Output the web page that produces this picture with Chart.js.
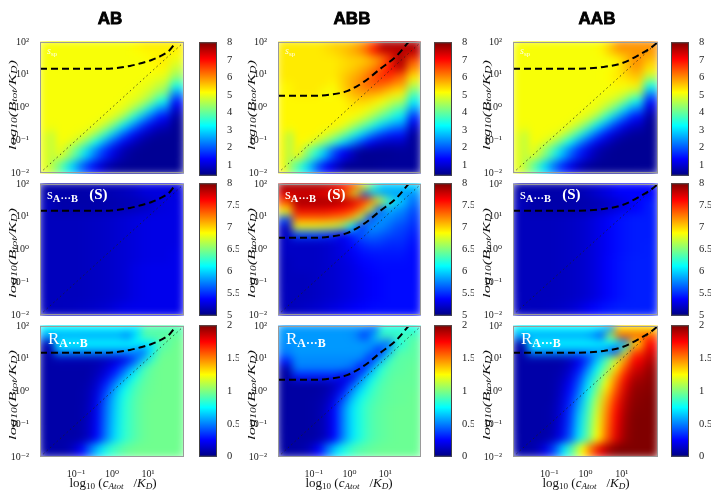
<!DOCTYPE html>
<html>
<head>
<meta charset="utf-8">
<script src="https://cdn.jsdelivr.net/npm/chart.js@4.4.1/dist/chart.umd.min.js"></script>
<style>
  body { margin: 0; background: #fff; }
  #fig { position: relative; width: 711px; height: 497px; overflow: hidden; font-family: "Liberation Serif", serif; }
  .heat { position: absolute; overflow: hidden; z-index: 1; }
  canvas { position: absolute; }
  .over { z-index: 2; }
  .txt { position: absolute; z-index: 3; white-space: nowrap; line-height: 1; }
  .title { font-family: "Liberation Sans", Arial, sans-serif; font-weight: bold; font-size: 17px; -webkit-text-stroke: 0.8px #000; transform: translate(-50%, -50%); }
  .ylab { font-size: 11px; font-style: italic; transform: translate(-50%, -50%) rotate(-90deg) scaleX(1.5); color: #111; }
  .xlab { font-size: 13px; transform: translate(-50%, -50%); color: #111; }
  .white { color: #fff; }
  sub { font-size: 70%; vertical-align: -0.25em; line-height: 0; }
</style>
</head>
<body>
<div id="fig"></div>
<script>
// cell centres of the 12x12 grids (log10 units), columns left->right, rows top->bottom
const LOG_X = [-1.833, -1.5, -1.167, -0.833, -0.5, -0.167, 0.167, 0.5, 0.833, 1.167, 1.5, 1.833];
const LOG_Y = [1.833, 1.5, 1.167, 0.833, 0.5, 0.167, -0.167, -0.5, -0.833, -1.167, -1.5, -1.833];

const Y_TICK_VALUES = [0.01, 0.1, 1, 10, 100];
const Y_TICK_LABELS = ["10⁻²", "10⁻¹", "10⁰", "10¹", "10²"];
const X_TICK_VALUES = [0.1, 1, 10];
const X_TICK_LABELS = ["10⁻¹", "10⁰", "10¹"];

const RANGE_SP = [0.4, 8];
const RANGE_S = [5, 8];
const RANGE_R = [0, 2];
const CBAR_TICKS_SP = [1, 2, 3, 4, 5, 6, 7, 8];
const CBAR_TICKS_S = [5, 5.5, 6, 6.5, 7, 7.5, 8];
const CBAR_TICKS_R = [0, 0.5, 1, 1.5, 2];

// dashed curves, log10 x / log10 y
const DASH_AB_X = [-2, -1, -0.5, 0, 0.5, 0.8, 1.1, 1.4, 1.6, 1.78];
const DASH_AB_Y = [1.18, 1.18, 1.18, 1.19, 1.27, 1.35, 1.45, 1.6, 1.75, 2.0];
const DASH_ABB_X = [-2, -1, -0.5, -0.07, 0.4, 0.86, 1.32, 1.65];
const DASH_ABB_Y = [0.36, 0.36, 0.4, 0.5, 0.78, 1.18, 1.58, 2.0];
const DASH_AAB_X = [-2, -1, 0, 0.5, 1.0, 1.5, 1.8, 2.0];
const DASH_AAB_Y = [1.18, 1.18, 1.19, 1.24, 1.35, 1.62, 1.82, 2.0];
const DIAG_LOG = [-2, 2];

// row 1: s_sp
const AB_SP = [
  [5.1, 5.1, 5.1, 5.1, 5.1, 5.1, 5.1, 5.1, 5.1, 5.1, 5.2, 5.3],
  [5.1, 5.1, 5.1, 5.1, 5.1, 5.1, 5.1, 5.1, 5.1, 5.1, 5.15, 5.2],
  [5.1, 5.1, 5.1, 5.1, 5.1, 5.1, 5.1, 5.1, 5.1, 5.1, 5.1, 5.0],
  [5.1, 5.1, 5.1, 5.1, 5.1, 5.1, 5.1, 5.1, 5.1, 5.05, 4.95, 4.7],
  [5.1, 5.1, 5.1, 5.1, 5.1, 5.1, 5.1, 5.1, 5.05, 4.95, 4.7, 4.3],
  [5.1, 5.1, 5.1, 5.1, 5.1, 5.1, 5.1, 5.05, 4.95, 4.7, 4.2, 3.4],
  [5.1, 5.1, 5.1, 5.1, 5.1, 5.1, 5.05, 4.95, 4.5, 3.9, 3.0, 2.3],
  [5.1, 5.1, 5.1, 5.1, 5.1, 5.05, 4.85, 4.35, 3.5, 2.7, 2.0, 1.4],
  [5.1, 5.1, 5.1, 5.1, 5.0, 4.65, 4.0, 3.1, 2.4, 1.7, 1.2, 0.9],
  [5.1, 5.1, 5.05, 4.9, 4.4, 3.65, 2.8, 2.05, 1.45, 1.0, 0.75, 0.6],
  [5.1, 5.0, 4.7, 4.1, 3.3, 2.5, 1.8, 1.25, 0.9, 0.65, 0.55, 0.55],
  [5.0, 4.5, 3.8, 2.95, 2.2, 1.6, 1.1, 0.75, 0.6, 0.55, 0.55, 0.55],
];
const ABB_SP = [
  [5.3, 5.3, 5.3, 5.3, 5.3, 5.4, 5.5, 5.5, 5.7, 6.0, 6.6, 7.7],
  [5.3, 5.3, 5.3, 5.3, 5.3, 5.4, 5.5, 5.7, 5.9, 6.3, 7.0, 7.5],
  [5.3, 5.3, 5.3, 5.3, 5.3, 5.5, 5.7, 5.9, 6.3, 6.7, 6.8, 6.4],
  [5.3, 5.3, 5.3, 5.3, 5.2, 5.5, 5.8, 6.1, 6.4, 6.4, 6.2, 5.9],
  [5.3, 5.3, 5.3, 5.1, 5.1, 5.4, 5.7, 5.9, 5.9, 5.8, 5.5, 5.3],
  [5.2, 5.2, 5.2, 5.2, 5.2, 5.2, 5.4, 5.5, 5.4, 5.2, 4.9, 4.6],
  [5.2, 5.2, 5.2, 5.2, 5.2, 5.2, 5.3, 5.2, 5.0, 4.7, 4.3, 3.8],
  [5.2, 5.2, 5.2, 5.2, 5.2, 5.2, 5.1, 4.9, 4.5, 4.0, 3.6, 3.1],
  [5.2, 5.2, 5.2, 5.2, 5.2, 5.0, 4.6, 4.1, 3.6, 3.0, 2.6, 2.3],
  [5.2, 5.2, 5.2, 5.0, 4.7, 4.2, 3.6, 3.0, 2.4, 1.9, 1.6, 1.5],
  [5.2, 5.1, 4.8, 4.3, 3.7, 3.0, 2.4, 1.8, 1.3, 1.0, 0.9, 0.9],
  [5.2, 4.3, 3.6, 2.8, 1.9, 1.3, 0.9, 0.55, 0.55, 0.55, 0.55, 0.6],
];
const AAB_SP = [
  [5.1, 5.1, 5.1, 5.1, 5.1, 5.1, 5.1, 5.1, 5.1, 5.2, 5.5, 6.0],
  [5.1, 5.1, 5.1, 5.1, 5.1, 5.1, 5.1, 5.1, 5.1, 5.2, 5.6, 5.9],
  [5.1, 5.1, 5.1, 5.1, 5.1, 5.1, 5.1, 5.1, 5.15, 5.3, 5.4, 5.6],
  [5.1, 5.1, 5.1, 5.1, 5.1, 5.1, 5.1, 5.1, 5.1, 5.2, 5.2, 5.3],
  [5.1, 5.1, 5.1, 5.1, 5.1, 5.1, 5.1, 5.1, 5.1, 5.05, 4.9, 4.6],
  [5.1, 5.1, 5.1, 5.1, 5.1, 5.1, 5.1, 5.05, 4.95, 4.7, 4.2, 3.4],
  [5.1, 5.1, 5.1, 5.1, 5.1, 5.1, 5.05, 4.95, 4.5, 3.9, 3.0, 2.3],
  [5.1, 5.1, 5.1, 5.1, 5.1, 5.05, 4.85, 4.35, 3.5, 2.7, 2.0, 1.4],
  [5.1, 5.1, 5.1, 5.1, 5.0, 4.65, 4.0, 3.1, 2.4, 1.7, 1.2, 0.9],
  [5.1, 5.1, 5.05, 4.9, 4.4, 3.65, 2.8, 2.05, 1.45, 1.0, 0.75, 0.6],
  [5.1, 5.0, 4.7, 4.1, 3.3, 2.5, 1.8, 1.25, 0.9, 0.65, 0.55, 0.55],
  [5.0, 4.5, 3.8, 2.95, 2.2, 1.6, 1.1, 0.75, 0.6, 0.55, 0.55, 0.55],
];

// row 2: s_A..B (S)
const AB_S = [
  [5.12, 5.12, 5.12, 5.12, 5.12, 5.13, 5.14, 5.15, 5.16, 5.18, 5.22, 5.28],
  [5.13, 5.13, 5.13, 5.13, 5.13, 5.14, 5.15, 5.16, 5.18, 5.2, 5.24, 5.28],
  [5.18, 5.18, 5.18, 5.19, 5.2, 5.21, 5.23, 5.25, 5.27, 5.29, 5.3, 5.3],
  [5.18, 5.18, 5.18, 5.19, 5.2, 5.21, 5.23, 5.25, 5.27, 5.29, 5.3, 5.3],
  [5.18, 5.18, 5.18, 5.19, 5.2, 5.21, 5.23, 5.25, 5.27, 5.29, 5.3, 5.3],
  [5.18, 5.18, 5.18, 5.19, 5.2, 5.21, 5.23, 5.25, 5.27, 5.29, 5.3, 5.3],
  [5.18, 5.18, 5.18, 5.19, 5.2, 5.21, 5.23, 5.25, 5.27, 5.29, 5.3, 5.3],
  [5.18, 5.18, 5.18, 5.19, 5.2, 5.21, 5.23, 5.25, 5.27, 5.29, 5.3, 5.3],
  [5.18, 5.18, 5.18, 5.19, 5.2, 5.21, 5.23, 5.25, 5.29, 5.31, 5.32, 5.32],
  [5.18, 5.18, 5.18, 5.19, 5.2, 5.21, 5.23, 5.25, 5.29, 5.31, 5.32, 5.32],
  [5.18, 5.18, 5.18, 5.19, 5.2, 5.21, 5.23, 5.25, 5.29, 5.31, 5.32, 5.32],
  [5.18, 5.18, 5.18, 5.19, 5.2, 5.21, 5.23, 5.25, 5.29, 5.31, 5.32, 5.32],
];
const ABB_S = [
  [7.9, 7.9, 7.9, 7.9, 7.9, 7.85, 7.75, 7.55, 7.3, 6.8, 6.3, 6.0],
  [7.7, 7.7, 7.7, 7.7, 7.65, 7.6, 7.5, 7.25, 6.7, 5.6, 5.9, 5.8],
  [7.35, 7.35, 7.35, 7.35, 7.3, 7.25, 7.1, 6.6, 5.5, 5.8, 5.8, 5.7],
  [6.85, 6.85, 6.85, 6.8, 6.75, 6.6, 6.1, 5.45, 5.8, 5.8, 5.7, 5.6],
  [5.6, 5.6, 5.6, 5.55, 5.5, 5.35, 5.5, 5.65, 5.7, 5.65, 5.6, 5.55],
  [5.2, 5.2, 5.2, 5.22, 5.25, 5.3, 5.4, 5.5, 5.55, 5.55, 5.5, 5.5],
  [5.2, 5.2, 5.2, 5.22, 5.25, 5.3, 5.35, 5.42, 5.45, 5.45, 5.45, 5.45],
  [5.2, 5.2, 5.2, 5.22, 5.25, 5.28, 5.32, 5.38, 5.4, 5.42, 5.42, 5.42],
  [5.2, 5.2, 5.2, 5.22, 5.24, 5.27, 5.3, 5.35, 5.38, 5.4, 5.4, 5.4],
  [5.18, 5.18, 5.2, 5.22, 5.24, 5.27, 5.3, 5.33, 5.36, 5.38, 5.4, 5.4],
  [5.18, 5.18, 5.2, 5.22, 5.24, 5.27, 5.3, 5.33, 5.36, 5.38, 5.4, 5.4],
  [5.18, 5.18, 5.2, 5.22, 5.24, 5.27, 5.3, 5.33, 5.36, 5.38, 5.4, 5.4],
];
const AAB_S = [
  [5.12, 5.12, 5.12, 5.12, 5.12, 5.13, 5.14, 5.16, 5.2, 5.25, 5.3, 5.38],
  [5.13, 5.13, 5.13, 5.13, 5.13, 5.14, 5.15, 5.17, 5.22, 5.28, 5.33, 5.38],
  [5.18, 5.18, 5.18, 5.19, 5.2, 5.22, 5.25, 5.3, 5.35, 5.4, 5.43, 5.45],
  [5.18, 5.18, 5.18, 5.19, 5.2, 5.22, 5.25, 5.3, 5.35, 5.4, 5.43, 5.45],
  [5.18, 5.18, 5.18, 5.19, 5.2, 5.22, 5.25, 5.3, 5.35, 5.4, 5.43, 5.45],
  [5.18, 5.18, 5.18, 5.19, 5.2, 5.22, 5.25, 5.3, 5.35, 5.4, 5.43, 5.45],
  [5.18, 5.18, 5.18, 5.19, 5.2, 5.22, 5.25, 5.3, 5.35, 5.4, 5.43, 5.45],
  [5.18, 5.18, 5.18, 5.19, 5.2, 5.22, 5.25, 5.3, 5.36, 5.41, 5.44, 5.46],
  [5.18, 5.18, 5.18, 5.19, 5.2, 5.22, 5.25, 5.3, 5.36, 5.41, 5.44, 5.46],
  [5.18, 5.18, 5.18, 5.19, 5.2, 5.22, 5.25, 5.3, 5.36, 5.41, 5.44, 5.46],
  [5.18, 5.18, 5.18, 5.19, 5.2, 5.22, 5.25, 5.3, 5.36, 5.41, 5.44, 5.46],
  [5.18, 5.18, 5.18, 5.19, 5.2, 5.22, 5.25, 5.3, 5.36, 5.41, 5.44, 5.46],
];

// row 3: R_A..B
const AB_R = [
  [0.75, 0.75, 0.75, 0.75, 0.75, 0.75, 0.75, 0.75, 0.75, 0.75, 0.72, 0.9],
  [0.55, 0.55, 0.55, 0.55, 0.55, 0.55, 0.55, 0.55, 0.55, 0.45, 0.7, 0.95],
  [0.1, 0.1, 0.1, 0.1, 0.1, 0.12, 0.15, 0.2, 0.35, 0.6, 0.85, 0.97],
  [0.08, 0.08, 0.08, 0.08, 0.1, 0.15, 0.25, 0.4, 0.6, 0.85, 0.95, 0.97],
  [0.08, 0.08, 0.08, 0.08, 0.12, 0.2, 0.35, 0.55, 0.75, 0.9, 0.95, 0.97],
  [0.08, 0.08, 0.08, 0.09, 0.15, 0.3, 0.5, 0.7, 0.85, 0.93, 0.96, 0.97],
  [0.08, 0.08, 0.08, 0.1, 0.18, 0.38, 0.6, 0.78, 0.88, 0.94, 0.96, 0.97],
  [0.08, 0.08, 0.08, 0.1, 0.2, 0.43, 0.64, 0.81, 0.9, 0.95, 0.97, 0.97],
  [0.08, 0.08, 0.08, 0.11, 0.21, 0.45, 0.65, 0.82, 0.9, 0.95, 0.97, 0.97],
  [0.08, 0.08, 0.08, 0.11, 0.22, 0.46, 0.66, 0.82, 0.9, 0.95, 0.97, 0.97],
  [0.08, 0.08, 0.08, 0.12, 0.23, 0.47, 0.67, 0.83, 0.9, 0.95, 0.97, 0.97],
  [0.08, 0.08, 0.08, 0.12, 0.24, 0.48, 0.68, 0.83, 0.9, 0.95, 0.97, 0.97],
];
const ABB_R = [
  [0.55, 0.55, 0.55, 0.55, 0.55, 0.55, 0.55, 0.55, 0.55, 0.55, 0.45, 0.8],
  [0.55, 0.55, 0.55, 0.55, 0.55, 0.55, 0.55, 0.55, 0.5, 0.3, 0.6, 0.9],
  [0.52, 0.52, 0.52, 0.52, 0.52, 0.52, 0.52, 0.5, 0.3, 0.55, 0.85, 0.93],
  [0.5, 0.5, 0.5, 0.5, 0.5, 0.5, 0.45, 0.25, 0.5, 0.8, 0.9, 0.93],
  [0.3, 0.3, 0.3, 0.3, 0.3, 0.2, 0.2, 0.45, 0.7, 0.85, 0.92, 0.94],
  [0.07, 0.07, 0.07, 0.08, 0.12, 0.2, 0.4, 0.62, 0.8, 0.9, 0.93, 0.95],
  [0.07, 0.07, 0.07, 0.09, 0.15, 0.3, 0.55, 0.72, 0.85, 0.91, 0.94, 0.95],
  [0.07, 0.07, 0.08, 0.1, 0.2, 0.42, 0.65, 0.8, 0.88, 0.92, 0.94, 0.95],
  [0.07, 0.07, 0.08, 0.12, 0.25, 0.5, 0.7, 0.82, 0.9, 0.93, 0.95, 0.96],
  [0.07, 0.07, 0.08, 0.12, 0.25, 0.5, 0.7, 0.82, 0.9, 0.93, 0.95, 0.96],
  [0.07, 0.07, 0.08, 0.12, 0.25, 0.5, 0.7, 0.82, 0.9, 0.93, 0.95, 0.96],
  [0.07, 0.07, 0.08, 0.12, 0.25, 0.5, 0.7, 0.82, 0.9, 0.93, 0.95, 0.96],
];
const AAB_R = [
  [0.75, 0.75, 0.75, 0.75, 0.75, 0.75, 0.75, 0.75, 0.75, 0.72, 0.55, 1.3],
  [0.55, 0.55, 0.55, 0.55, 0.55, 0.55, 0.55, 0.55, 0.5, 0.35, 1.1, 1.6],
  [0.08, 0.08, 0.08, 0.08, 0.12, 0.2, 0.38, 0.62, 0.9, 1.15, 1.45, 1.75],
  [0.08, 0.08, 0.08, 0.09, 0.14, 0.27, 0.5, 0.76, 1.0, 1.3, 1.6, 1.83],
  [0.08, 0.08, 0.08, 0.1, 0.18, 0.35, 0.62, 0.85, 1.15, 1.45, 1.72, 1.9],
  [0.08, 0.08, 0.08, 0.12, 0.23, 0.42, 0.7, 0.95, 1.25, 1.55, 1.8, 1.95],
  [0.08, 0.08, 0.08, 0.13, 0.27, 0.48, 0.76, 1.04, 1.34, 1.62, 1.85, 1.97],
  [0.08, 0.08, 0.08, 0.15, 0.3, 0.55, 0.83, 1.12, 1.42, 1.69, 1.89, 1.98],
  [0.08, 0.08, 0.09, 0.16, 0.33, 0.6, 0.87, 1.16, 1.47, 1.73, 1.91, 1.99],
  [0.08, 0.08, 0.09, 0.17, 0.35, 0.65, 0.9, 1.2, 1.5, 1.76, 1.93, 2.0],
  [0.08, 0.08, 0.09, 0.18, 0.37, 0.67, 0.93, 1.22, 1.52, 1.78, 1.94, 2.0],
  [0.08, 0.08, 0.1, 0.2, 0.4, 0.7, 0.95, 1.25, 1.55, 1.8, 1.95, 2.0],
];

const COLUMN_TITLES = ["AB", "ABB", "AAB"];

// ---- layout (pixels) ----
const PLOT_LEFT = [40, 278, 513];
const PLOT_W = [144, 143, 145];
const ROW_TOP = [41, 183, 325];
const ROW_H = [133, 133, 132];
const CBAR_LEFT = [199, 434, 671];
const CBAR_TOP = [42, 183, 325];
const CBAR_H = [134, 133, 132];
const CBAR_W = 18;
const TITLE_X = [110, 352, 597];
const YLAB_X = [12, 251, 486];
const YLAB_Y = [105, 253, 395];
const XLAB_X = [113, 349, 586];
const M = 14; // bleed around heat layers

const fig = document.getElementById("fig");
Chart.defaults.font.family = '"Liberation Serif", "DejaVu Serif", serif';
Chart.defaults.color = "#222";

const JET_STOPS = [0, 0.125, 0.375, 0.625, 0.875, 1];

function jetRgb(t) {
  const f = x => Math.round(255 * Math.min(1, Math.max(0, x)));
  return `rgb(${f(1.5 - Math.abs(4 * t - 3))},${f(1.5 - Math.abs(4 * t - 2))},${f(1.5 - Math.abs(4 * t - 1))})`;
}
function jet(v, range) {
  const t = Math.min(1, Math.max(0, (v - range[0]) / (range[1] - range[0])));
  return jetRgb(t);
}

const framePlugin = {
  id: "frame",
  afterDraw(chart, args, opts) {
    const a = chart.chartArea, c = chart.ctx;
    c.save();
    c.strokeStyle = opts.color || "#999";
    c.lineWidth = 1;
    c.strokeRect(a.left + 0.5, a.top + 0.5, a.width - 1, a.height - 1);
    c.restore();
  },
};

function addCanvas(parent, left, top, w, h, cls) {
  const c = document.createElement("canvas");
  c.width = w; c.height = h;
  c.style.cssText = `left:${left}px;top:${top}px;width:${w}px;height:${h}px`;
  if (cls) c.className = cls;
  parent.appendChild(c);
  return c;
}

function addText(html, x, y, cls, extra) {
  const d = document.createElement("div");
  d.className = "txt " + cls;
  d.innerHTML = html;
  d.style.left = x + "px";
  d.style.top = y + "px";
  if (extra) Object.assign(d.style, extra);
  fig.appendChild(d);
  return d;
}

function logAxis(ticksV, labels, show) {
  return {
    type: "logarithmic", min: 0.01, max: 100, display: show,
    afterBuildTicks: s => { s.ticks = ticksV.map(v => ({ value: v })); },
    ticks: { callback: (v, i) => labels[i], font: { size: 10 }, padding: 3, autoSkip: false, maxRotation: 0 },
    grid: { display: false }, border: { display: false },
  };
}

function drawHeat(grid, range, row, col) {
  const x = PLOT_LEFT[col], y = ROW_TOP[row], w = PLOT_W[col], h = ROW_H[row];
  const wrap = document.createElement("div");
  wrap.className = "heat";
  wrap.style.cssText = `left:${x}px;top:${y}px;width:${w}px;height:${h}px`;
  fig.appendChild(wrap);
  const cv = addCanvas(wrap, -M, -M, w + 2 * M, h + 2 * M);
  cv.style.filter = "blur(4.5px)";

  const pts = [];
  grid.forEach((r, ri) => r.forEach((v, ci) => pts.push({ x: 10 ** LOG_X[ci], y: 10 ** LOG_Y[ri], v })));
  const side = Math.max(w, h) / LOG_X.length + 1.5;
  const color = c => (c.raw ? jet(c.raw.v, range) : "#000");
  const base = { data: pts, clip: false, pointStyle: "rect", borderWidth: 0, pointBorderWidth: 0, backgroundColor: color, pointHoverRadius: 0 };

  new Chart(cv, {
    type: "scatter",
    data: {
      datasets: [
        Object.assign({}, base, { order: 2, pointRadius: (side * 3.2) / Math.SQRT2 }),
        Object.assign({}, base, { order: 1, pointRadius: side / Math.SQRT2 }),
      ],
    },
    options: {
      responsive: false, animation: false, events: [],
      layout: { padding: M },
      plugins: { legend: { display: false }, tooltip: { enabled: false } },
      scales: {
        x: { type: "logarithmic", min: 0.01, max: 100, display: false },
        y: { type: "logarithmic", min: 0.01, max: 100, display: false },
      },
    },
  });
}

function drawOverlay(dash, row, col) {
  const L = 40, T = 8, R = 4, B = row === 2 ? 22 : 8;
  const w = PLOT_W[col], h = ROW_H[row];
  const cv = addCanvas(fig, PLOT_LEFT[col] - L, ROW_TOP[row] - T, w + L + R, h + T + B, "over");
  const showX = row === 2;
  const xAxis = logAxis(X_TICK_VALUES, X_TICK_LABELS, showX);
  if (showX) xAxis.afterFit = s => { s.height = B; };
  const yAxis = logAxis(Y_TICK_VALUES, Y_TICK_LABELS, true);
  yAxis.afterFit = s => { s.width = L; };

  new Chart(cv, {
    type: "scatter",
    data: {
      datasets: [
        {
          data: DIAG_LOG.map(v => ({ x: 10 ** v, y: 10 ** v })),
          showLine: true, borderColor: "rgba(30,30,30,0.75)", borderWidth: 1, borderDash: [1.5, 3], pointRadius: 0,
        },
        {
          data: dash[0].map((v, i) => ({ x: 10 ** v, y: 10 ** dash[1][i] })),
          showLine: true, borderColor: "#000", borderWidth: 2, borderDash: [7, 4], pointRadius: 0,
          cubicInterpolationMode: "monotone",
        },
      ],
    },
    options: {
      responsive: false, animation: false, events: [],
      layout: { padding: { top: T, right: R, bottom: showX ? 0 : B, left: 0 } },
      plugins: { legend: { display: false }, tooltip: { enabled: false }, frame: { color: "#9a9a9a" } },
      scales: { x: xAxis, y: yAxis },
    },
    plugins: [framePlugin],
  });
}

function drawColorbar(range, ticks, row, col) {
  const AX = 22, T = 8, B = 8;
  const h = CBAR_H[row];
  const cv = addCanvas(fig, CBAR_LEFT[col], CBAR_TOP[row] - T, CBAR_W + AX, h + T + B, "over");
  const grad = c => {
    const a = c.chart.chartArea;
    if (!a) return jet((range[0] + range[1]) / 2, range);
    const g = c.chart.ctx.createLinearGradient(0, a.bottom, 0, a.top);
    JET_STOPS.forEach(t => g.addColorStop(t, jetRgb(t)));
    return g;
  };
  new Chart(cv, {
    type: "bar",
    data: { labels: [""], datasets: [{ data: [range], backgroundColor: grad, borderWidth: 0, barPercentage: 1, categoryPercentage: 1 }] },
    options: {
      responsive: false, animation: false, events: [],
      layout: { padding: { top: T, bottom: B, left: 0, right: 0 } },
      plugins: { legend: { display: false }, tooltip: { enabled: false }, frame: { color: "#444" } },
      scales: {
        x: { display: false },
        y: {
          position: "right", min: range[0], max: range[1],
          afterFit: s => { s.width = AX; },
          afterBuildTicks: s => { s.ticks = ticks.map(v => ({ value: v })); },
          ticks: { callback: v => String(v), font: { size: 10.5 }, padding: 2 },
          grid: { display: false }, border: { display: false },
        },
      },
    },
    plugins: [framePlugin],
  });
}

const ROWS = [
  { grids: [AB_SP, ABB_SP, AAB_SP], range: RANGE_SP, ticks: CBAR_TICKS_SP },
  { grids: [AB_S, ABB_S, AAB_S], range: RANGE_S, ticks: CBAR_TICKS_S },
  { grids: [AB_R, ABB_R, AAB_R], range: RANGE_R, ticks: CBAR_TICKS_R },
];
const DASHES = [[DASH_AB_X, DASH_AB_Y], [DASH_ABB_X, DASH_ABB_Y], [DASH_AAB_X, DASH_AAB_Y]];

ROWS.forEach((r, ri) => {
  for (let ci = 0; ci < 3; ci++) {
    drawHeat(r.grids[ci], r.range, ri, ci);
    drawOverlay(DASHES[ci], ri, ci);
    drawColorbar(r.range, r.ticks, ri, ci);
  }
});

// text
const YLAB = "log<sub>10</sub>(B<sub>tot</sub>/K<sub>D</sub>)";
const XLAB = "log<sub>10</sub> (<i>c</i><sub><i>Atot</i></sub> &nbsp; /<i>K</i><sub><i>D</i></sub>)";
const LBL_SP = "<i>s</i><sub>sp</sub>";
const LBL_S = "s<sub><b>A···B</b></sub> &nbsp; <b>(S)</b>";
const LBL_R = "R<sub><b>A···B</b></sub>";

for (let ci = 0; ci < 3; ci++) {
  addText(COLUMN_TITLES[ci], TITLE_X[ci], 18, "title");
  ROW_TOP.forEach((t, ri) => addText(YLAB, YLAB_X[ci], YLAB_Y[ri], "ylab"));
  addText(XLAB, XLAB_X[ci], 482, "xlab");
  const px = PLOT_LEFT[ci] + 7;
  addText(LBL_SP, px, ROW_TOP[0] + 5, "white", { fontSize: "10px", opacity: "0.9" });
  addText(LBL_S, px, ROW_TOP[1] + 4, "white", { fontSize: "15px" });
  addText(LBL_R, px + 1, ROW_TOP[2] + 5, "white", { fontSize: "17px" });
}
</script>
</body>
</html>
